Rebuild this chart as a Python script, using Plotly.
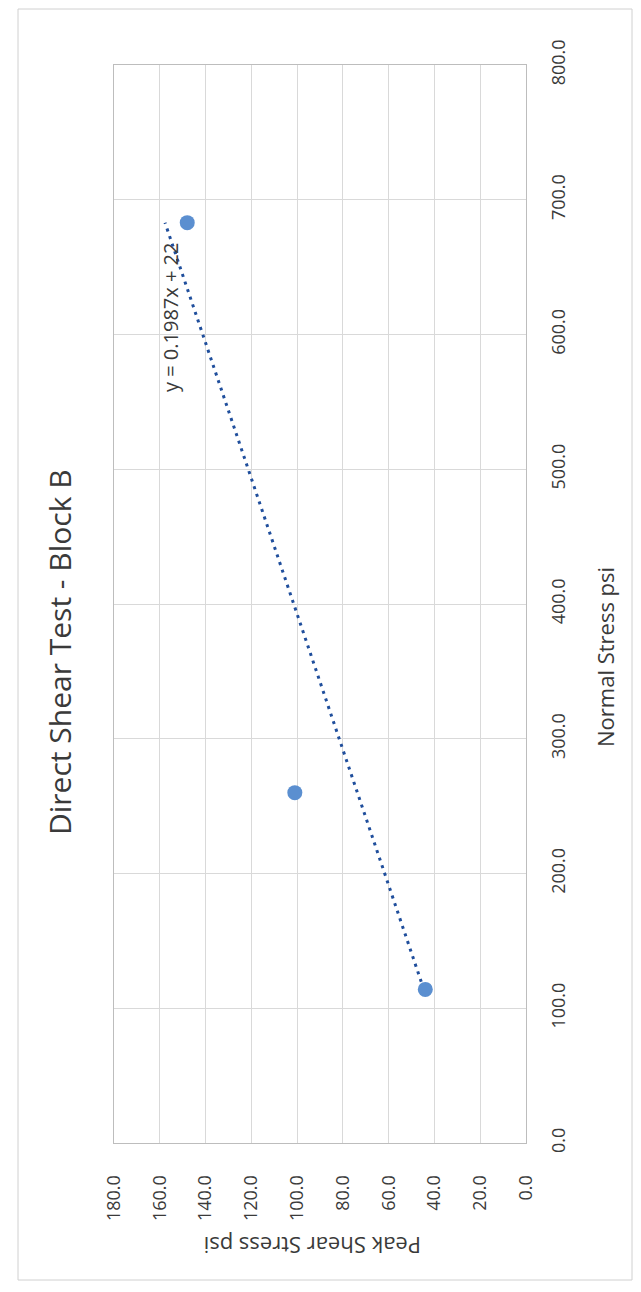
import plotly.graph_objects as go

# Direct shear test results, Block B
normal_stress = [114.0, 260.0, 683.0]      # psi
peak_shear = [44.0, 101.0, 148.0]          # psi

# Linear trendline y = 0.1987x + 22
trend_slope = 0.1987
trend_intercept = 22.0
trend_label = "y = 0.1987x + 22"

shear_ticks = [0, 20, 40, 60, 80, 100, 120, 140, 160, 180]
normal_ticks = [0, 100, 200, 300, 400, 500, 600, 700, 800]

# plot area in pixels
W, H = 641, 1292
L, R, T, B = 114, 526, 65, 1143


def px(x):
    return (x - L) / (R - L)


def py(y):
    return (B - y) / (B - T)


trend_x = [min(normal_stress), max(normal_stress)]
trend_y = [trend_slope * v + trend_intercept for v in trend_x]

FONT = "Open Sans"
TXT = "#3a3a3a"
GRID = "#d9d9d9"

fig = go.Figure()
fig.add_trace(go.Scatter(
    x=trend_y, y=trend_x, mode="lines",
    line=dict(color="#1f4e9c", width=3, dash="3px,5px"),
    hoverinfo="skip", showlegend=False,
))
fig.add_trace(go.Scatter(
    x=peak_shear, y=normal_stress, mode="markers",
    marker=dict(color="#5b8fd0", size=15, line=dict(width=0)),
    showlegend=False,
))

fig.update_layout(
    width=W, height=H,
    margin=dict(l=L, r=W - R, t=T, b=H - B),
    paper_bgcolor="white", plot_bgcolor="white",
    font=dict(family=FONT, color=TXT),
    showlegend=False,
    xaxis=dict(
        range=[180, 0], tickvals=shear_ticks,
        ticktext=[f"{v:.1f}" for v in shear_ticks],
        tickangle=-90, tickfont=dict(size=18, color=TXT),
        showgrid=True, gridcolor=GRID, gridwidth=1,
        zeroline=False, showline=True, linecolor="#bdbdbd", mirror=True,
        ticks="", ticklabelstandoff=24,
    ),
    yaxis=dict(
        range=[0, 800], tickvals=normal_ticks,
        ticktext=[f"{v:.1f}" for v in normal_ticks],
        side="right", tickangle=-90, tickfont=dict(size=18, color=TXT),
        showgrid=True, gridcolor=GRID, gridwidth=1,
        zeroline=False, showline=True, linecolor="#bdbdbd", mirror=True,
        ticks="", ticklabelstandoff=16,
    ),
)


def label(text, x, y, size, angle):
    return dict(text=text, x=px(x), y=py(y), xref="paper", yref="paper",
                xanchor="center", yanchor="middle", showarrow=False,
                textangle=angle, font=dict(size=size, color=TXT, family=FONT))


fig.update_layout(annotations=[
    label("Direct Shear Test - Block B", 59, 652, 30, -90),
    label("Normal Stress psi", 605, 657, 22, -90),
    label("Peak Shear Stress psi", 313, 1246, 22, 180),
    label(trend_label, 170, 318, 20, -90),
])

# chart frame
fig.add_shape(type="rect", xref="paper", yref="paper",
              x0=px(18), x1=px(632), y0=py(1280), y1=py(9),
              line=dict(color="#d0d0d0", width=1), layer="below")

fig.write_html("out.html")
